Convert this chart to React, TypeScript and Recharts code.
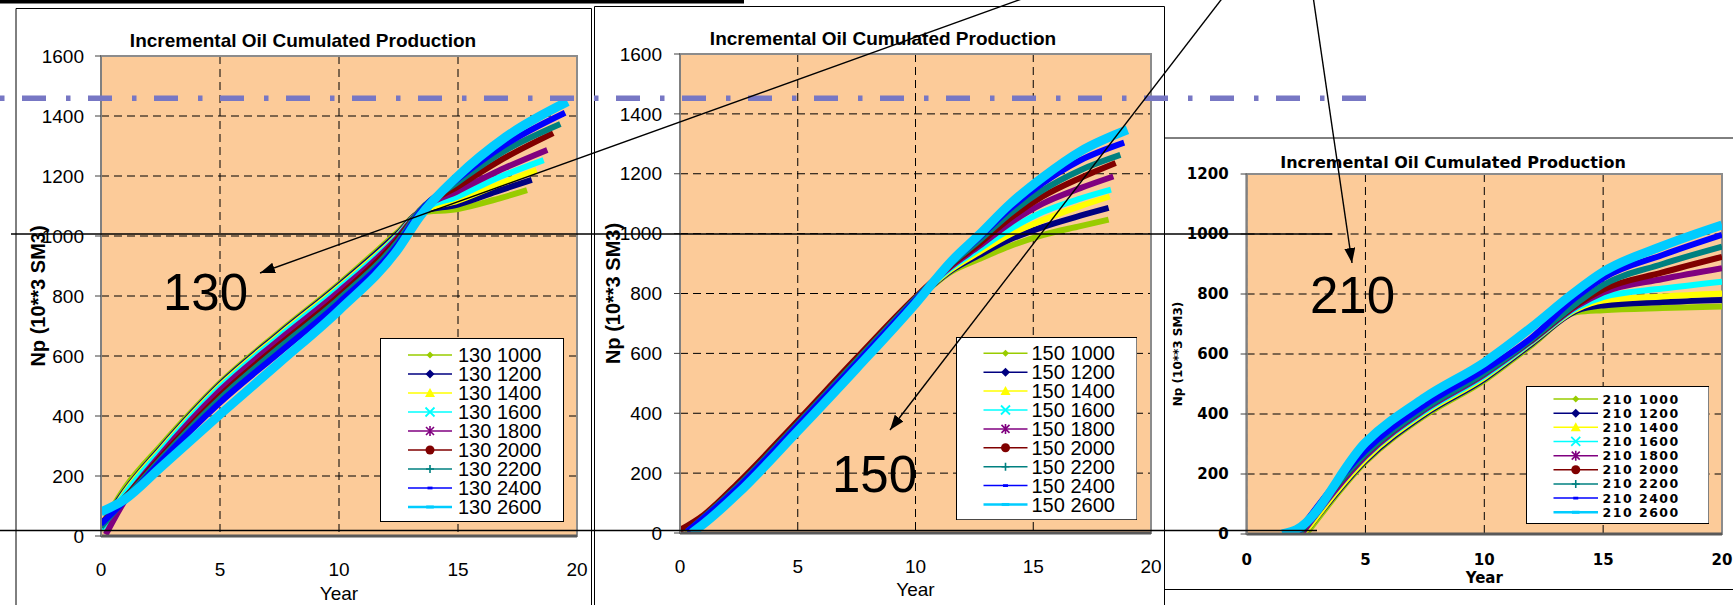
import React from 'react';
import {
  LineChart,
  Line,
  XAxis,
  YAxis,
  CartesianGrid,
  Legend,
  ReferenceArea,
} from 'recharts';

type Pair = [number, number];

const rates = ['1000', '1200', '1400', '1600', '1800', '2000', '2200', '2400', '2600'];
const yearTicks = [0, 5, 10, 15, 20];
const npTicks1600 = [0, 200, 400, 600, 800, 1000, 1200, 1400, 1600];
const npTicks1200 = [0, 200, 400, 600, 800, 1000, 1200];
const chartTitle = 'Incremental Oil Cumulated Production';
const npTitle = 'Np (10**3 SM3)';

// case 130: [year, Np] per rate
const c130_1000: Pair[] = [[0, 30], [1, 160], [2.5, 300], [5, 510], [7.5, 680], [10, 840], [12.5, 1015], [13.4, 1078], [15, 1090], [16.5, 1120], [17.9, 1153]];
const c130_1200: Pair[] = [[0, 30], [1, 150], [2.5, 292], [5, 505], [7.5, 675], [10, 835], [12.5, 1010], [13.4, 1080], [15, 1105], [16.6, 1148], [18.1, 1187]];
const c130_1400: Pair[] = [[0, 20], [1, 145], [2.5, 287], [5, 500], [7.5, 670], [10, 830], [12.5, 1005], [13.4, 1080], [15, 1118], [16.7, 1172], [18.3, 1220]];
const c130_1600: Pair[] = [[0, 20], [1, 140], [2.5, 282], [5, 495], [7.5, 665], [10, 825], [12.5, 1002], [13.4, 1082], [15, 1132], [16.8, 1198], [18.6, 1253]];
const c130_1800: Pair[] = [[0.2, 5], [1, 118], [2.5, 270], [5, 485], [7.5, 655], [10, 815], [12.5, 998], [13.4, 1084], [15, 1150], [17, 1228], [18.75, 1287]];
const c130_2000: Pair[] = [[0, 40], [1, 128], [2.5, 262], [5, 468], [7.5, 638], [10, 800], [12.5, 992], [13.4, 1085], [15, 1165], [17, 1262], [19, 1343]];
const c130_2200: Pair[] = [[0, 30], [1, 122], [2.5, 255], [5, 458], [7.5, 628], [10, 790], [12.5, 985], [13.4, 1085], [15, 1180], [17, 1285], [19.3, 1373]];
const c130_2400: Pair[] = [[0, 40], [1, 118], [2.5, 248], [5, 445], [7.5, 612], [10, 778], [12.5, 975], [13.4, 1080], [15, 1190], [17, 1305], [19.5, 1411]];
const c130_2600: Pair[] = [[0, 80], [1, 122], [2.5, 228], [5, 405], [7.5, 578], [10, 752], [12.5, 958], [13.4, 1065], [15, 1200], [17, 1330], [19.6, 1448]];

// case 150
const c150_1000: Pair[] = [[0.3, 0], [1, 45], [2.5, 150], [5, 360], [7.5, 570], [10, 775], [11.5, 872], [12.7, 915], [14, 958], [15.4, 995], [17, 1025], [18.2, 1047]];
const c150_1200: Pair[] = [[0.3, 0], [1, 45], [2.5, 152], [5, 362], [7.5, 572], [10, 777], [11.5, 876], [12.7, 928], [14, 980], [15.4, 1022], [17, 1060], [18.2, 1086]];
const c150_1400: Pair[] = [[0.3, 0], [1, 47], [2.5, 154], [5, 365], [7.5, 575], [10, 779], [11.5, 880], [12.7, 938], [14, 997], [15.4, 1045], [17, 1092], [18.25, 1124]];
const c150_1600: Pair[] = [[0.4, 0], [1, 48], [2.5, 156], [5, 367], [7.5, 577], [10, 781], [11.5, 885], [12.7, 948], [14, 1014], [15.4, 1072], [17, 1117], [18.3, 1147]];
const c150_1800: Pair[] = [[0.5, 0], [1, 50], [2.5, 160], [5, 370], [7.5, 580], [10, 784], [11.5, 890], [12.7, 958], [14, 1034], [15.4, 1100], [17, 1152], [18.4, 1191]];
const c150_2000: Pair[] = [[0, 10], [1, 60], [2.5, 170], [5, 375], [7.5, 585], [10, 788], [11.5, 894], [12.7, 966], [14, 1050], [15.4, 1124], [17, 1186], [18.5, 1236]];
const c150_2200: Pair[] = [[0.3, 5], [1, 52], [2.5, 160], [5, 365], [7.5, 575], [10, 783], [11.5, 898], [12.7, 976], [14, 1066], [15.4, 1145], [17, 1212], [18.7, 1263]];
const c150_2400: Pair[] = [[0.3, 5], [1, 50], [2.5, 155], [5, 360], [7.5, 568], [10, 779], [11.5, 902], [12.7, 986], [14, 1082], [15.4, 1168], [17, 1245], [18.86, 1304]];
const c150_2600: Pair[] = [[0.5, 0], [1, 30], [2.5, 135], [5, 340], [7.5, 550], [10, 766], [11.5, 906], [12.7, 996], [14, 1098], [15.4, 1188], [17, 1275], [19, 1347]];

// case 210
const c210_1000: Pair[] = [[2.5, 0], [5, 240], [7.5, 395], [10, 512], [12, 630], [13.9, 740], [15, 746], [17.5, 753], [20, 758]];
const c210_1200: Pair[] = [[2.4, 0], [5, 245], [7.5, 400], [10, 517], [12, 635], [13.9, 745], [15, 762], [17.5, 773], [20, 780]];
const c210_1400: Pair[] = [[2.4, 0], [5, 250], [7.5, 405], [10, 522], [12, 640], [13.9, 750], [15, 778], [17.5, 792], [20, 802]];
const c210_1600: Pair[] = [[2.3, 0], [5, 258], [7.5, 410], [10, 527], [12, 642], [13.9, 755], [15, 790], [17.5, 818], [20, 841]];
const c210_1800: Pair[] = [[2.3, 0], [5, 260], [7.5, 415], [10, 532], [12, 645], [13.9, 760], [15, 805], [17.5, 850], [20, 886]];
const c210_2000: Pair[] = [[2.2, 0], [5, 268], [7.5, 420], [10, 537], [12, 648], [13.9, 765], [15, 815], [17.5, 872], [20, 924]];
const c210_2200: Pair[] = [[2.2, 0], [5, 268], [7.5, 420], [10, 537], [12, 650], [13.9, 770], [15, 830], [17.5, 900], [20, 958]];
const c210_2400: Pair[] = [[2.1, 0], [5, 278], [7.5, 430], [10, 547], [12, 655], [13.8, 785], [15, 853], [17.5, 930], [20, 997]];
const c210_2600: Pair[] = [[1.5, 0], [2.1, 15], [5, 305], [7.5, 455], [10, 572], [12, 690], [13.7, 800], [15, 874], [17.5, 960], [20, 1030]];

const case130 = [c130_1000, c130_1200, c130_1400, c130_1600, c130_1800, c130_2000, c130_2200, c130_2400, c130_2600];
const case150 = [c150_1000, c150_1200, c150_1400, c150_1600, c150_1800, c150_2000, c150_2200, c150_2400, c150_2600];
const case210 = [c210_1000, c210_1200, c210_1400, c210_1600, c210_1800, c210_2000, c210_2200, c210_2400, c210_2600];

// line colour, legend marker and band width for each rate
const seriesLook = [
  { color: '#99CC00', mark: 'diamond', s: 3.5, width: 6 },
  { color: '#000080', mark: 'diamond', s: 4.5, width: 6 },
  { color: '#FFFF00', mark: 'triangle', s: 5, width: 6 },
  { color: '#00FFFF', mark: 'cross', s: 4.5, width: 6 },
  { color: '#800080', mark: 'star', s: 4, width: 6 },
  { color: '#800000', mark: 'circle', s: 4.5, width: 6 },
  { color: '#008080', mark: 'plus', s: 4, width: 6 },
  { color: '#0000FF', mark: 'dash', s: 2.5, width: 6 },
  { color: '#00CCFF', mark: 'bar', s: 3.8, width: 9 },
];

const SANS = '"Liberation Sans", Arial, sans-serif';
const VERD = '"DejaVu Sans", Verdana, sans-serif';
const PLOT_FILL = '#FCCB99';

interface LegendLayout {
  left: number;
  top: number;
  width: number;
  height: number;
  firstRow: number;
  rowGap: number;
  lineFrom: number;
  lineTo: number;
  textX: number;
  fontSize: number;
  fontWeight: string;
  spacing: number;
}

interface PanelLayout {
  left: number;
  top: number;
  width: number;
  height: number;
  plot: { left: number; right: number; top: number; bottom: number };
  font: string;
  tickSize: number;
  tickWeight: string;
  titleSize: number;
  titleTop: number;
  npSize: number;
  npOffset: number;
  yearSize: number;
  yearWeight: string;
  yearOffset: number;
  xTickMargin: number;
  yTickMargin: number;
  legend: LegendLayout;
}

const lay130: PanelLayout = {
  left: 15, top: 8, width: 577, height: 597,
  plot: { left: 101, right: 577, top: 56, bottom: 536 },
  font: SANS, tickSize: 19, tickWeight: 'normal',
  titleSize: 19, titleTop: 30.7,
  npSize: 20, npOffset: 23,
  yearSize: 19, yearWeight: 'normal', yearOffset: 5,
  xTickMargin: 27, yTickMargin: 11,
  legend: { left: 380, top: 338, width: 184, height: 184, firstRow: 17, rowGap: 19, lineFrom: 28, lineTo: 72, textX: 78, fontSize: 20, fontWeight: 'normal', spacing: 0 },
};

const lay150: PanelLayout = {
  left: 595, top: 6, width: 569, height: 599,
  plot: { left: 680, right: 1151, top: 54, bottom: 533 },
  font: SANS, tickSize: 19, tickWeight: 'normal',
  titleSize: 19, titleTop: 29.2,
  npSize: 20, npOffset: 18,
  yearSize: 19, yearWeight: 'normal', yearOffset: 9,
  xTickMargin: 27, yTickMargin: 12,
  legend: { left: 955.5, top: 336.7, width: 181.5, height: 183.3, firstRow: 16.3, rowGap: 18.9, lineFrom: 27.5, lineTo: 71.5, textX: 75.5, fontSize: 20, fontWeight: 'normal', spacing: 0 },
};

const lay210: PanelLayout = {
  left: 1165, top: 138, width: 568, height: 452,
  plot: { left: 1246.6, right: 1722, top: 174, bottom: 534 },
  font: VERD, tickSize: 15, tickWeight: 'bold',
  titleSize: 16, titleTop: 155,
  npSize: 12, npOffset: 13,
  yearSize: 15, yearWeight: 'bold', yearOffset: 6.8,
  xTickMargin: 20.5, yTickMargin: 12,
  legend: { left: 1525.5, top: 386, width: 183.5, height: 138, firstRow: 13, rowGap: 14.16, lineFrom: 27.5, lineTo: 72, textX: 76.5, fontSize: 12.5, fontWeight: 'bold', spacing: 1.5 },
};

const Mark = ({ kind, x, y, s, color }: { kind: string; x: number; y: number; s: number; color: string }) => {
  switch (kind) {
    case 'diamond':
      return <polygon points={`${x},${y - s} ${x + s},${y} ${x},${y + s} ${x - s},${y}`} fill={color} />;
    case 'triangle':
      return <polygon points={`${x},${y - s} ${x + s},${y + s * 0.8} ${x - s},${y + s * 0.8}`} fill={color} />;
    case 'cross':
      return <path d={`M${x - s},${y - s}L${x + s},${y + s}M${x - s},${y + s}L${x + s},${y - s}`} stroke={color} strokeWidth={1.8} />;
    case 'star':
      return (
        <path
          d={`M${x - s},${y - s}L${x + s},${y + s}M${x - s},${y + s}L${x + s},${y - s}M${x},${y - s * 1.25}L${x},${y + s * 1.25}`}
          stroke={color}
          strokeWidth={1.6}
        />
      );
    case 'circle':
      return <circle cx={x} cy={y} r={s} fill={color} />;
    case 'plus':
      return <path d={`M${x - s},${y}L${x + s},${y}M${x},${y - s}L${x},${y + s}`} stroke={color} strokeWidth={1.6} />;
    case 'dash':
      return <rect x={x - s} y={y - s * 0.55} width={s * 2} height={s * 1.1} fill={color} />;
    default:
      return <rect x={x - s} y={y - s * 0.4} width={s * 2} height={s * 0.8} fill={color} />;
  }
};

const LegendBox = ({ caseName, lg, font }: { caseName: string; lg: LegendLayout; font: string }) => (
  <svg width={lg.width} height={lg.height} style={{ display: 'block' }}>
    <rect x={0.5} y={0.5} width={lg.width - 1} height={lg.height - 1} fill="#fff" stroke="#000" />
    {rates.map((rate, i) => {
      const look = seriesLook[i];
      const y = lg.firstRow + i * lg.rowGap;
      const mid = (lg.lineFrom + lg.lineTo) / 2;
      return (
        <g key={rate}>
          <line x1={lg.lineFrom} x2={lg.lineTo} y1={y} y2={y} stroke={look.color} strokeWidth={i === 8 ? 2.5 : 1.5} />
          <Mark kind={look.mark} x={mid} y={y} s={look.s} color={look.color} />
          <text
            x={lg.textX}
            y={y}
            dominantBaseline="central"
            fontFamily={font}
            fontSize={lg.fontSize}
            fontWeight={lg.fontWeight}
            letterSpacing={lg.spacing}
            fill="#000"
          >
            {`${caseName} ${rate}`}
          </text>
        </g>
      );
    })}
  </svg>
);

interface PanelProps {
  caseName: string;
  series: Pair[][];
  yMax: number;
  yTicks: number[];
  lay: PanelLayout;
}

const Panel = ({ caseName, series, yMax, yTicks, lay }: PanelProps) => {
  const margin = {
    top: lay.plot.top - lay.top,
    right: lay.left + lay.width - lay.plot.right,
    left: 0,
    bottom: 0,
  };
  const yAxisWidth = lay.plot.left - lay.left;
  const xAxisHeight = lay.top + lay.height - lay.plot.bottom;
  const tickStyle = { fontSize: lay.tickSize, fontFamily: lay.font, fontWeight: lay.tickWeight, fill: '#000' };

  return (
    <div style={{ position: 'absolute', left: lay.left, top: lay.top, width: lay.width, height: lay.height }}>
      <LineChart width={lay.width} height={lay.height} margin={margin}>
        <CartesianGrid stroke="#000" strokeDasharray="8 5" fill={PLOT_FILL} fillOpacity={1} />
        <ReferenceArea x1={0} x2={20} y1={0} y2={yMax} fill="none" stroke="#8c8c8c" strokeWidth={2} />
        <XAxis
          type="number"
          dataKey="year"
          domain={[0, 20]}
          ticks={yearTicks}
          interval={0}
          allowDataOverflow
          height={xAxisHeight}
          tickSize={0}
          tickLine={false}
          tickMargin={lay.xTickMargin}
          axisLine={{ stroke: '#595959', strokeWidth: 3 }}
          tick={tickStyle}
          label={{
            value: 'Year',
            position: 'insideBottom',
            offset: lay.yearOffset,
            fontSize: lay.yearSize,
            fontFamily: lay.font,
            fontWeight: lay.yearWeight,
            fill: '#000',
          }}
        />
        <YAxis
          type="number"
          dataKey="np"
          domain={[0, yMax]}
          ticks={yTicks}
          interval={0}
          allowDataOverflow
          width={yAxisWidth}
          tickSize={6}
          tickMargin={lay.yTickMargin}
          axisLine={{ stroke: '#808080', strokeWidth: 2 }}
          tickLine={{ stroke: '#404040' }}
          tick={tickStyle}
          label={{
            value: npTitle,
            angle: -90,
            position: 'insideLeft',
            offset: lay.npOffset,
            fontSize: lay.npSize,
            fontFamily: lay.font,
            fontWeight: 'bold',
            fill: '#000',
            style: { textAnchor: 'middle' },
          }}
        />
        {series.map((pts, i) => (
          <Line
            key={rates[i]}
            name={`${caseName} ${rates[i]}`}
            data={pts.map(([year, np]) => ({ year, np }))}
            dataKey="np"
            type="monotone"
            stroke={seriesLook[i].color}
            strokeWidth={seriesLook[i].width}
            dot={false}
            activeDot={false}
            isAnimationActive={false}
          />
        ))}
        <Legend
          layout="vertical"
          align="center"
          verticalAlign="middle"
          wrapperStyle={{
            left: lay.legend.left - lay.left,
            top: lay.legend.top - lay.top,
            width: lay.legend.width,
            height: lay.legend.height,
          }}
          content={() => <LegendBox caseName={caseName} lg={lay.legend} font={lay.font} />}
        />
      </LineChart>
      <div
        style={{
          position: 'absolute',
          left: 0,
          top: lay.titleTop - lay.top,
          width: 576,
          textAlign: 'center',
          fontFamily: lay.font,
          fontWeight: 'bold',
          fontSize: lay.titleSize,
          lineHeight: `${lay.titleSize}px`,
          whiteSpace: 'nowrap',
        }}
      >
        {chartTitle}
      </div>
    </div>
  );
};

// frames, reference lines, arrows and case tags drawn over the three panels
const Overlay = () => (
  <svg width={1733} height={605} style={{ position: 'absolute', left: 0, top: 0, pointerEvents: 'none' }}>
    <defs>
      <marker id="tip" markerUnits="userSpaceOnUse" markerWidth={15} markerHeight={11} refX={15} refY={5.5} orient="auto">
        <path d="M0,0 L15,5.5 L0,11 z" fill="#000" />
      </marker>
    </defs>
    <rect x={0} y={0} width={744} height={3.5} fill="#000" />
    <path d="M16,605 V8.5 H591.5 V605" fill="none" stroke="#000" strokeWidth={1} />
    <path d="M594.5,605 V6.5 H1164.5 V605" fill="none" stroke="#000" strokeWidth={1} />
    <path d="M1164.5,138 H1733 M1164.5,589.5 H1733" fill="none" stroke="#000" strokeWidth={1} />
    <line x1={0} y1={98.3} x2={1366} y2={98.3} stroke="#7777C4" strokeWidth={5.5} strokeDasharray="4.5 17.5 24 20" />
    <line x1={11} y1={234} x2={1332} y2={234} stroke="#000" strokeWidth={1.5} />
    <line x1={0} y1={530.5} x2={1317} y2={530.5} stroke="#000" strokeWidth={1.5} />
    <line x1={1030} y1={-4} x2={260} y2={273} stroke="#000" strokeWidth={1.4} markerEnd="url(#tip)" />
    <line x1={1224} y1={-4} x2={890} y2={430} stroke="#000" strokeWidth={1.4} markerEnd="url(#tip)" />
    <line x1={1313} y1={-4} x2={1352} y2={263} stroke="#000" strokeWidth={1.4} markerEnd="url(#tip)" />
    <g fontFamily={SANS} fontSize={51} fill="#000">
      <text x={163} y={310}>130</text>
      <text x={832} y={492}>150</text>
      <text x={1310} y={313}>210</text>
    </g>
  </svg>
);

export default function App() {
  return (
    <div
      style={{
        position: 'absolute',
        left: 0,
        top: 0,
        width: 1733,
        height: 605,
        overflow: 'hidden',
        background: '#fff',
      }}
    >
      <Panel caseName="130" series={case130} yMax={1600} yTicks={npTicks1600} lay={lay130} />
      <Panel caseName="150" series={case150} yMax={1600} yTicks={npTicks1600} lay={lay150} />
      <Panel caseName="210" series={case210} yMax={1200} yTicks={npTicks1200} lay={lay210} />
      <Overlay />
    </div>
  );
}
